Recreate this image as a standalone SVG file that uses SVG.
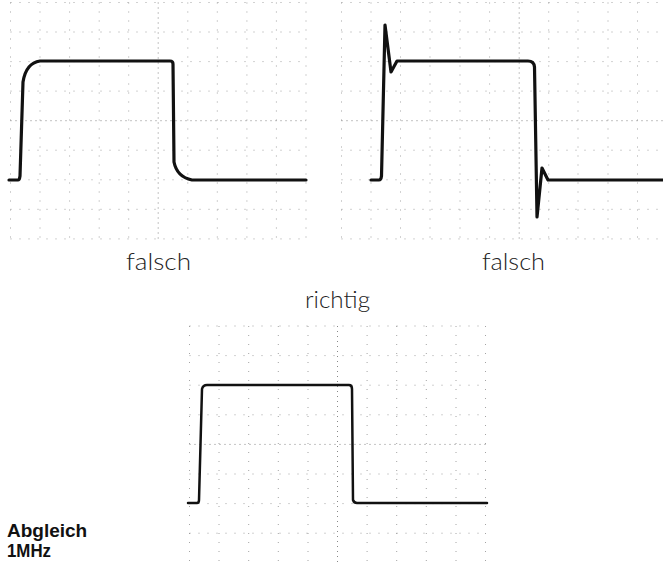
<svg xmlns="http://www.w3.org/2000/svg" width="663" height="562" viewBox="0 0 663 562">
<style>
.bg{fill:#ffffff}
.grid{stroke:#9a9a9a;stroke-width:0.9;stroke-dasharray:1 8;fill:none}
.axis{stroke:#7a7a7a;stroke-width:0.9;stroke-dasharray:1 4;fill:none}
.wave{stroke:#111;stroke-width:3.2;fill:none;stroke-linejoin:round;stroke-linecap:round}
.wave3{stroke:#111;stroke-width:2.5;fill:none;stroke-linejoin:round;stroke-linecap:round}
.lbl{font-family:Lato,"Liberation Sans",sans-serif;font-weight:300;font-size:24px;fill:#222}
.bold{font-family:"Liberation Sans",Arial,sans-serif;font-weight:bold;font-size:19px;fill:#111}
</style>
<rect class="bg" x="0" y="0" width="663" height="562"/>

<g id="panel-left">
  <g id="grid-left">
    <path class="grid" d="M10.5,2.5V238.9 M40,2.5V238.9 M69.6,2.5V238.9 M99.2,2.5V238.9 M128.7,2.5V238.9 M187.8,2.5V238.9 M217.3,2.5V238.9 M246.9,2.5V238.9 M276.4,2.5V238.9 M306,2.5V238.9"/>
    <path class="grid" d="M10.5,2.5H306 M10.5,32H306 M10.5,61.6H306 M10.5,91.1H306 M10.5,150.2H306 M10.5,179.8H306 M10.5,209.3H306 M10.5,238.9H306"/>
    <path class="axis" d="M158.2,2.5V238.9 M10.5,120.7H306"/>
  </g>
  <path class="wave" d="M9,180 H18 Q19.5,180 20,176 L23,82 Q26,63 40,61 H170 Q173,61 173,64 L174,162 Q177,177 192,180 H306"/>
  <text class="lbl" x="126" y="270" textLength="65" lengthAdjust="spacingAndGlyphs">falsch</text>
</g>

<g id="panel-right">
  <g id="grid-right">
    <path class="grid" d="M341.5,2.5V238.9 M371,2.5V238.9 M400.5,2.5V238.9 M430,2.5V238.9 M460,2.5V238.9 M489.6,2.5V238.9 M548.7,2.5V238.9 M578,2.5V238.9 M608,2.5V238.9 M637.5,2.5V238.9"/>
    <path class="grid" d="M341.5,2.5H663 M341.5,32H663 M341.5,61.6H663 M341.5,91.1H663 M341.5,150.2H663 M341.5,179.8H663 M341.5,209.3H663 M341.5,238.9H663"/>
    <path class="axis" d="M519.2,2.5V238.9 M341.5,120.7H663"/>
  </g>
  <path class="wave" d="M371,180 H379 Q381,180 381.5,176 L385,25 L391,72 L397,61 H528 Q534,61 534.5,67 L537,217 L542,168 L548,180 H663"/>
  <text class="lbl" x="482" y="270" textLength="63" lengthAdjust="spacingAndGlyphs">falsch</text>
</g>

<g id="panel-bottom">
  <text class="lbl" x="305" y="308" textLength="65" lengthAdjust="spacingAndGlyphs">richtig</text>
  <g id="grid-bottom">
    <path class="grid" d="M189.5,326V562 M219,326V562 M248.7,326V562 M278.3,326V562 M308,326V562 M367.1,326V562 M396.7,326V562 M426.3,326V562 M456,326V562 M485.5,326V562"/>
    <path class="grid" d="M189.5,326H485.5 M189.5,355.6H485.5 M189.5,385.2H485.5 M189.5,414.8H485.5 M189.5,474H485.5 M189.5,503.6H485.5 M189.5,533.2H485.5"/>
    <path class="axis" d="M337.5,326V562 M189.5,444.4H485.5"/>
  </g>
  <path class="wave3" d="M188,503 H197 Q199,503 199,500 L202,389 Q203,385 207,385 H349 Q352,385 352,389 L353,500 Q354,503 357,503 H487"/>
</g>

<g id="label-abgleich">
  <text class="bold" x="7" y="537">Abgleich</text>
  <text class="bold" x="7" y="557" textLength="44" lengthAdjust="spacingAndGlyphs">1MHz</text>
</g>
</svg>
